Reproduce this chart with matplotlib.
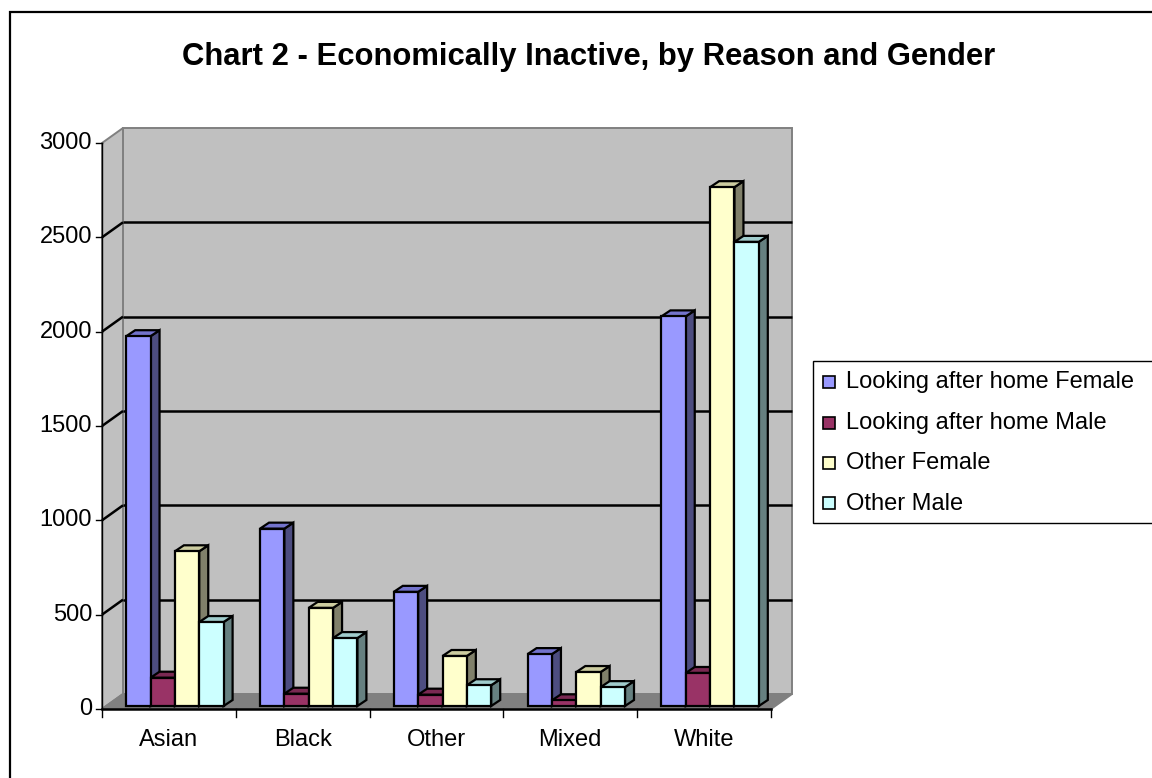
import matplotlib
matplotlib.use("Agg")
import matplotlib.pyplot as plt
from matplotlib.patches import Polygon, Rectangle

plt.rcParams['font.family'] = ['Liberation Sans', 'DejaVu Sans']

# ---- data ----
title = "Chart 2 - Economically Inactive, by Reason and Gender"
categories = ["Asian", "Black", "Other", "Mixed", "White"]
series_names = ["Looking after home Female", "Looking after home Male",
                "Other Female", "Other Male"]
looking_after_home_female = [1960, 940, 605, 275, 2065]
looking_after_home_male = [150, 65, 60, 30, 175]
other_female = [820, 520, 265, 180, 2750]
other_male = [445, 360, 110, 100, 2460]
y_ticks = [0, 500, 1000, 1500, 2000, 2500, 3000]

series_values = [looking_after_home_female, looking_after_home_male,
                 other_female, other_male]

# ---- styles ----
face_colors = ['#9999FF', '#993366', '#FFFFCC', '#CCFFFF']
top_colors = ['#7373CC', '#7A2952', '#CCCCA0', '#A0CCCC']
side_colors = ['#4D4D80', '#4D1A33', '#80806A', '#668080']
wall_color = '#C0C0C0'
floor_color = '#808080'
edge_gray = '#808080'

W, H = 1152, 778
fig = plt.figure(figsize=(W / 100, H / 100), dpi=100)
fig.patch.set_facecolor('white')


def px_box(left, top, right, bottom):
    return [left / W, 1 - bottom / H, (right - left) / W, (bottom - top) / H]


AX_L, AX_T, AX_R, AX_B = 102, 143, 771, 709
ymax = y_ticks[-1]
ax = fig.add_axes(px_box(AX_L, AX_T, AX_R, AX_B))
ax.set_xlim(0, len(categories))
ax.set_ylim(0, ymax)
ax.axis('off')

ux = len(categories) / (AX_R - AX_L)   # data x units per pixel
uy = ymax / (AX_B - AX_T)              # data y units per pixel

# depth of the plot box (pixels right / up)
DX, DY = 21 * ux, 15 * uy
# bar front and back planes inside the box
FX, FY = 6 * ux, 3 * uy
BX, BY = 15 * ux, 9 * uy

n_cat = len(categories)


def poly(pts, fc, ec, lw, z):
    p = Polygon(pts, closed=True, facecolor=fc, edgecolor=ec, linewidth=lw,
                zorder=z, clip_on=False, joinstyle='miter')
    ax.add_patch(p)


# walls and floor
poly([(DX, DY), (n_cat + DX, DY), (n_cat + DX, ymax + DY), (DX, ymax + DY)],
     wall_color, edge_gray, 1.4, 1)
poly([(0, 0), (0, ymax), (DX, ymax + DY), (DX, DY)], wall_color, edge_gray, 1.4, 1)
poly([(0, 0), (n_cat, 0), (n_cat + DX, DY), (DX, DY)], floor_color, edge_gray, 1.4, 1)

# gridlines on back and side walls
for t in y_ticks[1:-1]:
    ax.plot([DX, n_cat + DX], [t + DY, t + DY], color='black', lw=1.8,
            zorder=2, clip_on=False, solid_capstyle='butt')
    ax.plot([0, DX], [t, t + DY], color='black', lw=1.8, zorder=2,
            clip_on=False, solid_capstyle='butt')

# axes lines and ticks
ax.plot([0, 0], [0, ymax], color='black', lw=1.0, zorder=3, clip_on=False)
ax.plot([0, n_cat], [0, 0], color='black', lw=1.8, zorder=3, clip_on=False)
for t in y_ticks:
    ax.plot([-6 * ux, 0], [t, t], color='black', lw=1.0, zorder=3, clip_on=False)
    ax.text(-10 * ux, t, f"{t}", ha='right', va='center', fontsize=17)
for i in range(n_cat + 1):
    ax.plot([i, i], [0, -8 * uy], color='black', lw=1.0, zorder=3, clip_on=False)
for i, c in enumerate(categories):
    ax.text(i + 0.5, -31 * uy, c, ha='center', va='center', fontsize=17)

# 3-D style columns, drawn left to right so nearer faces cover hidden ones
bw = 0.182
group_start = 0.5 - 2 * bw
k = 0
for i in range(n_cat):
    for j, vals in enumerate(series_values):
        v = vals[i]
        xl = i + group_start + j * bw
        z = 10 + 2 * k
        # side face
        poly([(xl + bw + FX, FY), (xl + bw + FX, v + FY),
              (xl + bw + BX, v + BY), (xl + bw + BX, BY)],
             side_colors[j], 'black', 1.6, z)
        # top face
        poly([(xl + FX, v + FY), (xl + bw + FX, v + FY),
              (xl + bw + BX, v + BY), (xl + BX, v + BY)],
             top_colors[j], 'black', 1.6, z)
        # front face
        ax.bar(xl + FX, v, width=bw, bottom=FY, align='edge',
               color=face_colors[j], edgecolor='black', linewidth=1.6,
               zorder=z + 1, clip_on=False)
        k += 1

# title
fig.text(589 / W, 1 - 57 / H, title, ha='center', va='center',
         fontsize=22.3, fontweight='bold')

# legend
fig.patches.append(Rectangle((813 / W, 1 - 523 / H), 400 / W, 162 / H,
                             transform=fig.transFigure, facecolor='white',
                             edgecolor='black', linewidth=1.0))
for j, name in enumerate(series_names):
    yc = 382 + j * 40.5
    fig.patches.append(Rectangle(((829 - 6) / W, 1 - (yc + 6) / H),
                                 12 / W, 12 / H, transform=fig.transFigure,
                                 facecolor=face_colors[j], edgecolor='black',
                                 linewidth=1.2))
    fig.text(846 / W, 1 - yc / H, name, ha='left', va='center', fontsize=17)

# chart frame
fig.patches.append(Rectangle((10 / W, -0.1), 1.2, 1.1 - 12 / H,
                             transform=fig.transFigure, facecolor='none',
                             edgecolor='black', linewidth=1.6, zorder=0))

fig.savefig("out.png", dpi=100)
